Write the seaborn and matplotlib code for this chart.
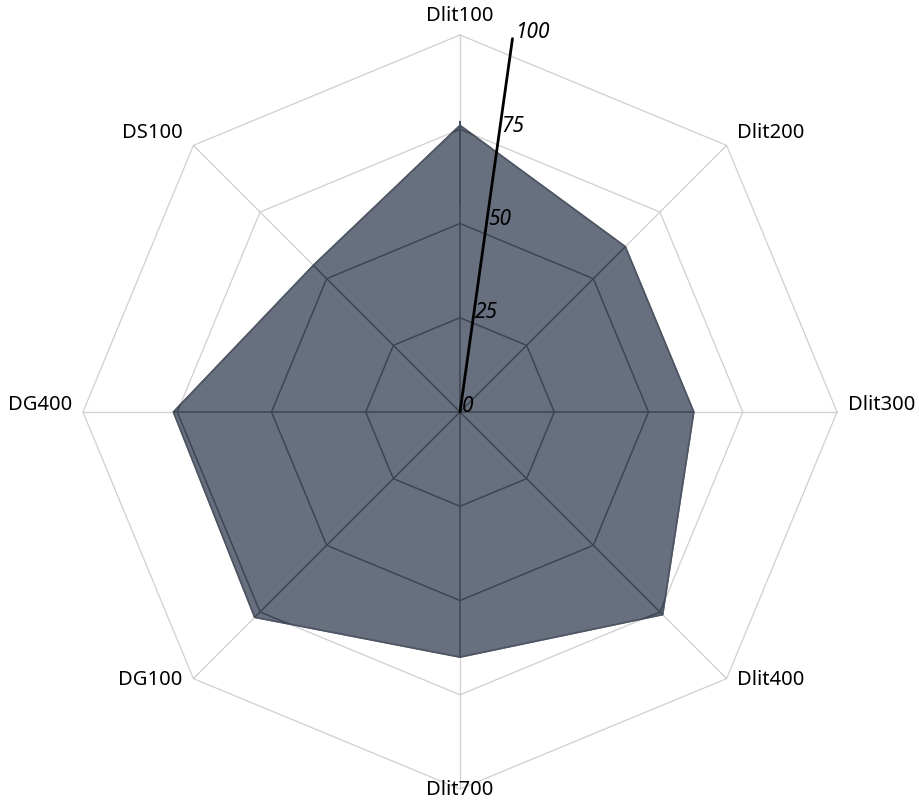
import numpy as np
import matplotlib
matplotlib.use("Agg")
import matplotlib.pyplot as plt
import seaborn as sns

categories = ["Dlit100", "Dlit200", "Dlit300", "Dlit400", "Dlit700", "DG100", "DG400", "DS100"]
values = [76, 62, 62, 76, 65, 77, 76, 55]
rings = [25, 50, 75, 100]
tick_labels = ["0", "25", "50", "75", "100"]
tick_values = [0, 25, 50, 75, 100]

sns.set_style("white")
plt.rcParams["font.family"] = ["Noto Sans", "DejaVu Sans"]

n = len(categories)
theta = np.arange(n) * 2 * np.pi / n  # clockwise from top
sx, sy = np.sin(theta), np.cos(theta)

fig = plt.figure(figsize=(9.2, 8.03), dpi=100)
ax = fig.add_axes([0, 0, 1, 1])
ax.set_xlim(-122.0, 122.0)
ax.set_ylim(-103.4, 109.5)
ax.set_aspect("equal")
ax.axis("off")

grid_light = "#d2cdd1"
grid_dark = "#3e4552"

# light grid (rings + spokes)
for r in rings:
    ax.plot(np.append(r * sx, r * sx[0]), np.append(r * sy, r * sy[0]),
            color=grid_light, lw=0.9, zorder=1)
for i in range(n):
    ax.plot([0, 100 * sx[i]], [0, 100 * sy[i]], color=grid_light, lw=0.9, zorder=1)

# data polygon
v = np.array(values, dtype=float)
poly = ax.fill(np.append(v * sx, v * sx[0]), np.append(v * sy, v * sy[0]),
               color="#687080", zorder=2)[0]
ax.plot(np.append(v * sx, v * sx[0]), np.append(v * sy, v * sy[0]),
        color="#4e5664", lw=1.3, zorder=3)

# grid seen through the fill appears dark
for r in rings:
    ln, = ax.plot(np.append(r * sx, r * sx[0]), np.append(r * sy, r * sy[0]),
                  color=grid_dark, lw=1.1, zorder=3)
    ln.set_clip_path(poly)
for i in range(n):
    ln, = ax.plot([0, 100 * sx[i]], [0, 100 * sy[i]], color=grid_dark, lw=1.1, zorder=3)
    ln.set_clip_path(poly)

# radial axis
ang = np.deg2rad(8)
ax.plot([0, 100 * np.sin(ang)], [0, 100 * np.cos(ang)], color="black", lw=2, zorder=4)
for t, lab in zip(tick_values, tick_labels):
    ax.text(t * np.sin(ang) + 0.6, t * np.cos(ang) + 1.8, lab, ha="left", va="center",
            fontsize=15, style="italic", color="black", zorder=5)

# category labels
for i, lab in enumerate(categories):
    x, y = 100 * sx[i], 100 * sy[i]
    if abs(sx[i]) < 1e-6:
        ha = "center"
        if sy[i] > 0:
            y += 2.6
            va = "bottom"
        else:
            va = "center"
    else:
        ha = "left" if sx[i] > 0 else "right"
        x += 2.8 if sx[i] > 0 else -2.8
        va = "center"
        if sy[i] > 1e-6:
            y += 3.5
        elif abs(sy[i]) < 1e-6:
            y += 2.0
    ax.text(x, y, lab, ha=ha, va=va, fontsize=14.5, color="black", zorder=5)

fig.savefig("out.png", dpi=100, facecolor="white")
